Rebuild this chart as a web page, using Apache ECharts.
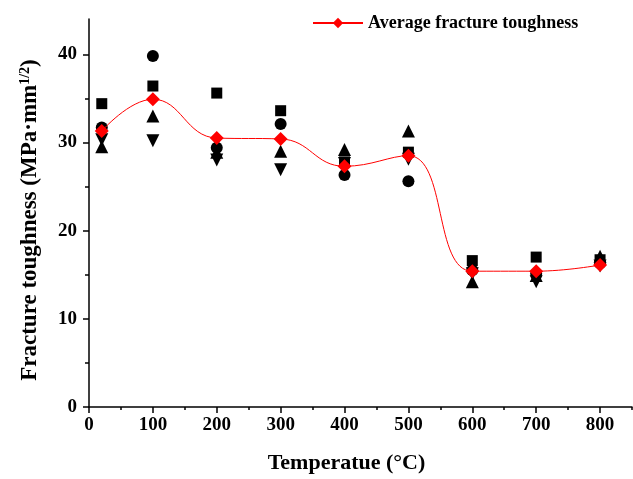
<!DOCTYPE html>
<html>
<head>
<meta charset="utf-8">
<script src="https://cdn.jsdelivr.net/npm/echarts@6/dist/echarts.min.js"></script>
<style>
html, body { margin: 0; padding: 0; background: #fff; }
#chart { width: 633px; height: 479px; }
</style>
</head>
<body>
<div id="chart"></div>
<script>
// temperatures (°C)
var temps = [20, 100, 200, 300, 400, 500, 600, 700, 800];
// individual specimens
var squareVals = [34.4, 36.4, 35.6, 33.6, 27.8, 28.9, 16.6, 17.0, 16.7];
var circleVals = [31.7, 39.8, 29.4, 32.1, 26.3, 25.6, 15.5, 15.1, 16.3];
var upVals = [29.5, 33.0, 28.9, 29.0, 29.2, 31.3, 14.2, 14.9, 17.1];
var downVals = [30.3, 30.2, 28.0, 26.9, 27.6, 28.1, 15.1, 14.2, 16.0];
// average line
var avgVals = [31.3, 34.9, 30.5, 30.4, 27.3, 28.5, 15.4, 15.4, 16.1];
var xTicks = [0, 100, 200, 300, 400, 500, 600, 700, 800];
var xMinor = [50, 150, 250, 350, 450, 550, 650, 750, 850];
var yTicks = [0, 10, 20, 30, 40];
var yMinor = [5, 15, 25, 35];

var FONT = 'Liberation Serif';

function pairs(vals) {
	return temps.map(function (t, i) { return [t, vals[i]]; });
}

function scatter(name, symbol, size, vals, rot) {
	return {
		name: name,
		type: 'scatter',
		symbol: symbol,
		symbolSize: size,
		symbolRotate: rot || 0,
		itemStyle: { color: '#000', opacity: 1 },
		data: pairs(vals),
		z: 2
	};
}

var tickStyle = { color: '#000', width: 1.5 };

var myChart = echarts.init(document.getElementById('chart'));
var option = {
	animation: false,
	grid: { left: 89, right: 1, top: 19, bottom: 70, containLabel: false },
	legend: {
		data: ['Average fracture toughness'],
		left: 312,
		top: 14,
		padding: 0,
		itemWidth: 50,
		itemHeight: 13,
		itemGap: 4,
		textStyle: { fontFamily: FONT, fontWeight: 'bold', fontSize: 18, color: '#000' }
	},
	xAxis: [{
		type: 'value',
		min: 0, max: 850, interval: 100,
		splitLine: { show: false },
		axisLine: { onZero: false, lineStyle: tickStyle },
		axisTick: { customValues: xTicks, length: 6, lineStyle: tickStyle },
		axisLabel: {
			customValues: xTicks, margin: 9, color: '#000',
			fontFamily: FONT, fontWeight: 'bold', fontSize: 19
		},
		name: 'Temperatue (°C)',
		nameLocation: 'middle',
		nameGap: 45,
		nameTextStyle: { fontFamily: FONT, fontWeight: 'bold', fontSize: 22, color: '#000', padding: [0, 28, 0, 0] }
	}, {
		// minor ticks
		type: 'value',
		position: 'bottom',
		min: 0, max: 850,
		splitLine: { show: false },
		axisLine: { show: false },
		axisTick: { customValues: xMinor, length: 3, lineStyle: tickStyle },
		axisLabel: { show: false }
	}],
	yAxis: [{
		type: 'value',
		min: 0, max: 44, interval: 10,
		splitLine: { show: false },
		axisLine: { onZero: false, lineStyle: tickStyle },
		axisTick: { customValues: yTicks, length: 6, lineStyle: tickStyle },
		axisLabel: {
			customValues: yTicks, margin: 12, color: '#000',
			fontFamily: FONT, fontWeight: 'bold', fontSize: 19
		},
		name: '{a|Fracture toughness (MPa·mm}{s|1/2}{a|)}',
		nameLocation: 'middle',
		nameRotate: 90,
		nameGap: 46,
		nameTextStyle: {
			padding: [0, 14, 0, 0],
			rich: {
				a: { fontFamily: FONT, fontWeight: 'bold', fontSize: 23, color: '#000' },
				s: { fontFamily: FONT, fontWeight: 'bold', fontSize: 14, color: '#000', padding: [0, 0, 11, 0] }
			}
		}
	}, {
		// minor ticks
		type: 'value',
		position: 'left',
		min: 0, max: 44,
		splitLine: { show: false },
		axisLine: { show: false },
		axisTick: { customValues: yMinor, length: 4, lineStyle: tickStyle },
		axisLabel: { show: false }
	}],
	series: [
		scatter('s1', 'rect', 11, squareVals),
		scatter('s2', 'circle', 12, circleVals),
		scatter('s3', 'triangle', 13, upVals),
		scatter('s4', 'triangle', 13, downVals, 180),
		{
			name: 'Average fracture toughness',
			type: 'line',
			smooth: 0.45,
			symbol: 'diamond',
			symbolSize: 14,
			color: '#ff0000',
			lineStyle: { color: '#ff0000', width: 1 },
			itemStyle: { color: '#ff0000' },
			data: pairs(avgVals),
			z: 3
		}
	]
};
myChart.setOption(option);
</script>
</body>
</html>
